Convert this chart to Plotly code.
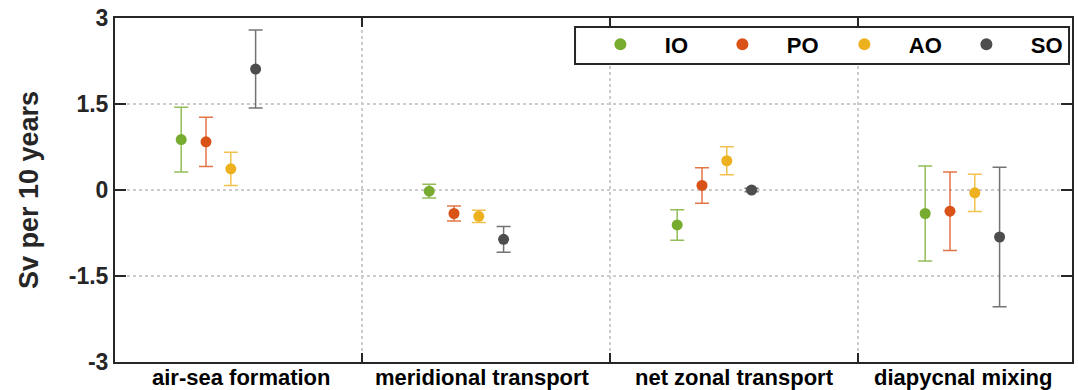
import plotly.graph_objects as go

# Decadal trends (Sv per 10 years) of each water-mass budget term, per ocean basin
categories = ["air-sea formation", "meridional transport", "net zonal transport", "diapycnal mixing"]
basins = ["IO", "PO", "AO", "SO"]

io_mean = [0.88, -0.02, -0.61, -0.41]
io_err = [0.565, 0.12, 0.265, 0.83]
po_mean = [0.84, -0.41, 0.08, -0.37]
po_err = [0.43, 0.13, 0.31, 0.685]
ao_mean = [0.37, -0.46, 0.51, -0.05]
ao_err = [0.29, 0.105, 0.245, 0.325]
so_mean = [2.11, -0.86, 0.00, -0.82]
so_err = [0.68, 0.225, 0.03, 1.215]

y_ticks = [-3, -1.5, 0, 1.5, 3]
y_ticktext = ["-3", "-1.5", "0", "1.5", "3"]

# basin offsets around each category centre
offsets = [-0.15, -0.05, 0.05, 0.15]
group_sep = [1.58, 2.58, 3.58]
label_pos = [1.095, 2.065, 3.083, 4.006]

marker_colors = ["#77AC30", "#D95319", "#EDB120", "#4D4D4D"]
bar_colors = ["rgba(119,172,48,0.8)", "rgba(217,83,25,0.8)",
              "rgba(237,177,32,0.8)", "rgba(90,90,90,0.85)"]

means = [io_mean, po_mean, ao_mean, so_mean]
errs = [io_err, po_err, ao_err, so_err]

FONT = "Liberation Sans, Arial, Helvetica, sans-serif"
AXC = "#262626"
PAD = "\u00a0" * 4

fig = go.Figure()
for name, m, e, off, mc, bc in zip(basins, means, errs, offsets, marker_colors, bar_colors):
    fig.add_trace(go.Scatter(
        x=[i + 1 + off for i in range(len(categories))],
        y=m,
        mode="markers",
        name=f"{PAD}<b>{name}</b>",
        marker=dict(color=mc, size=11, line=dict(width=0)),
        error_y=dict(type="data", array=e, visible=True, color=bc, thickness=1.5, width=7),
    ))

for txt, xp in zip(categories, label_pos):
    fig.add_annotation(x=xp, y=0, xref="x", yref="paper", yanchor="top", yshift=-1,
                       text=f"<b>{txt}</b>", showarrow=False,
                       font=dict(family=FONT, size=22, color="black"))

# frame around the legend
fig.add_shape(type="rect", xref="paper", yref="paper",
              x0=0.4807, x1=0.9969, y0=0.8663, y1=0.9738,
              line=dict(color=AXC, width=2), fillcolor="white", layer="above")

fig.update_layout(
    width=1078, height=390,
    margin=dict(l=115, r=6, t=18, b=28, autoexpand=False),
    paper_bgcolor="white", plot_bgcolor="white",
    font=dict(family=FONT, color=AXC),
    showlegend=True,
    legend=dict(
        orientation="h", x=0.5072, y=0.984, xanchor="left", yanchor="top",
        borderwidth=0, bgcolor="rgba(0,0,0,0)",
        font=dict(family=FONT, size=22, color="black"),
        entrywidth=77, entrywidthmode="pixels",
        itemsizing="constant",
    ),
    xaxis=dict(
        range=[0.583, 4.442], tickvals=group_sep, showticklabels=False,
        ticks="inside", ticklen=9, tickwidth=2, tickcolor=AXC,
        showgrid=True, gridcolor="#cccccc", griddash="dot", gridwidth=1.5,
        showline=True, linecolor=AXC, linewidth=2, mirror="ticks", zeroline=False,
    ),
    yaxis=dict(
        range=[-3, 3], tickvals=y_ticks, ticktext=[f"<b>{t}</b>" for t in y_ticktext],
        ticks="inside", ticklen=11, tickwidth=2, tickcolor=AXC,
        tickfont=dict(family=FONT, size=23, color=AXC),
        showgrid=True, gridcolor="#cccccc", griddash="dot", gridwidth=1.5,
        showline=True, linecolor=AXC, linewidth=2, mirror="ticks", zeroline=False,
        title=dict(text="<b>Sv per 10 years</b>", font=dict(family=FONT, size=27, color=AXC), standoff=22),
    ),
)

fig.write_html("out.html")
